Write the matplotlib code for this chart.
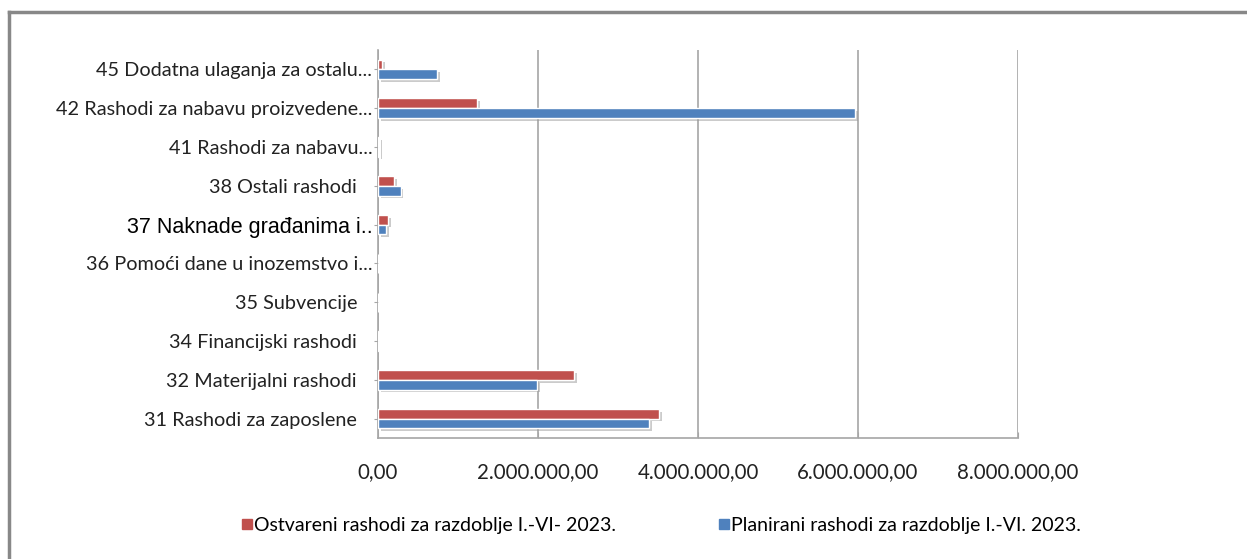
import matplotlib
matplotlib.use('Agg')
import matplotlib.pyplot as plt
import matplotlib.patheffects as pe
from matplotlib.lines import Line2D
from matplotlib.ticker import FuncFormatter
import numpy as np

# categories, bottom to top as drawn
categories = ['31 Rashodi za zaposlene   ', '32 Materijalni rashodi   ', '34 Financijski rashodi   ',
              '35 Subvencije   ', '36 Pomoći dane u inozemstvo i...', '37 Naknade građanima i..',
              '38 Ostali rashodi   ', '41 Rashodi za nabavu...', '42 Rashodi za nabavu proizvedene...',
              '45 Dodatna ulaganja za ostalu...']
ostvareni = [3516000, 2450000, 8000, 6000, 4000, 125000, 204000, 12000, 1241000, 50000]
planirani = [3387000, 1991000, 8000, 6000, 4000, 100000, 284000, 15000, 5962000, 735000]
xticks = [0, 2000000, 4000000, 6000000, 8000000]

red = '#C0504D'
blue = '#4F81BD'

fig = plt.figure(figsize=(12.47, 5.59), dpi=100)
ax = fig.add_axes([378/1247, 1-438/559, 640/1247, 388/559])

y = np.arange(len(categories))
h = 0.25
shadow = [pe.SimplePatchShadow(offset=(2, -2), shadow_rgbFace='#999999', alpha=0.5), pe.Normal()]
ax.barh(y + h/2, ostvareni, height=h, color=red, edgecolor='white', linewidth=1.0,
        path_effects=shadow, zorder=3)
ax.barh(y - h/2, planirani, height=h, color=blue, edgecolor='white', linewidth=1.0,
        path_effects=shadow, zorder=3)

ax.set_xlim(0, 8000000)
ax.set_ylim(-0.5, len(categories) - 0.5)
ax.set_xticks(xticks)
ax.xaxis.set_major_formatter(FuncFormatter(lambda v, p: '{:,.2f}'.format(v).replace(',', 'X').replace('.', ',').replace('X', '.')))
ax.grid(axis='x', color='#A6A6A6', linewidth=1.2, zorder=0)
ax.set_yticks(y)
ax.set_yticklabels(categories)
for lab in ax.get_yticklabels():
    if lab.get_text().startswith('37'):
        lab.set_fontfamily('Liberation Sans')
        lab.set_fontsize(15.5)
        lab.set_color('black')
    else:
        lab.set_fontfamily('Lato')
        lab.set_fontsize(14.3)
        lab.set_color('#222222')
for lab in ax.get_xticklabels():
    lab.set_fontfamily('Lato')
    lab.set_fontsize(14.8)
    lab.set_color('#222222')

for s in ['top', 'right']:
    ax.spines[s].set_visible(False)
for s in ['left', 'bottom']:
    ax.spines[s].set_color('#A6A6A6')
    ax.spines[s].set_linewidth(1.2)
ax.tick_params(axis='x', direction='in', length=4, color='#A6A6A6', pad=17)
ax.tick_params(axis='y', length=3, color='#A6A6A6', pad=1)

handles = [Line2D([], [], marker='s', linestyle='', color=red, markersize=6.5),
           Line2D([], [], marker='s', linestyle='', color=blue, markersize=6.5)]
fig.legend(handles, ['Ostvareni rashodi za razdoblje I.-VI- 2023.', 'Planirani rashodi za razdoblje I.-VI. 2023.'],
           loc='center', bbox_to_anchor=(662/1247, 1-525/559), ncol=2, frameon=False,
           prop={'family': 'Lato', 'size': 14}, handlelength=0.4, handletextpad=0.15, columnspacing=5.4)

# outer frame (left and top edges only visible)
fig.add_artist(Line2D([9/1247, 9/1247], [0, 1-12/559], color='#888888', linewidth=2.5))
fig.add_artist(Line2D([9/1247, 1], [1-12/559, 1-12/559], color='#888888', linewidth=2.5))

fig.savefig('out.png', dpi=100)
